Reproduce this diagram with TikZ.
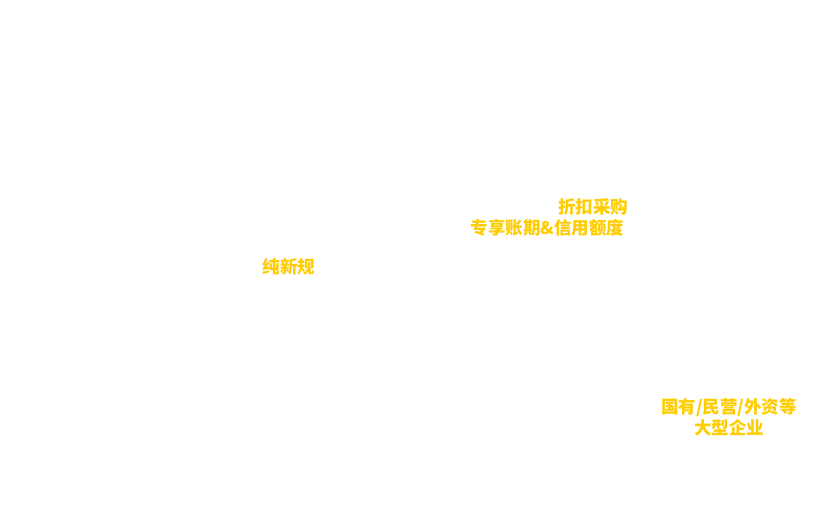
\documentclass[tikz,border=0pt]{standalone}
\usepackage{fontspec}
\newfontfamily\cjk{Noto Sans CJK SC}
\definecolor{tagyellow}{HTML}{FFCC00}

\begin{document}
\begin{tikzpicture}[x=1bp,y=-1bp,
    tag/.style={text=tagyellow,font=\cjk\bfseries\fontsize{17.5bp}{21bp}\selectfont,inner sep=0pt}]
            \useasboundingbox (0,0) rectangle (834,521);
            \node[tag,anchor=east] (zhekou) at (628.5,207) {折扣采购};
            \node[tag,anchor=east] (zhangqi) at (624.5,228) {专享账期\&信用额度};
            \node[tag,anchor=west] (chunxin) at (262.5,267) {纯新规};
            \node[tag,align=center] (qiye) at (729,417.5) {国有/民营/外资等\\大型企业};
        \end{tikzpicture}
\end{document}
